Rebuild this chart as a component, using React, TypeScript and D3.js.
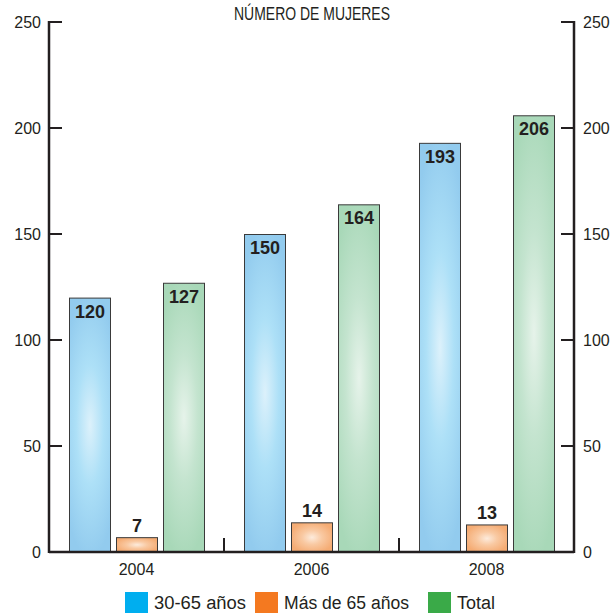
import React, { useEffect, useRef } from 'react';
import * as d3 from 'd3';

const years = ['2004', '2006', '2008'];
const seriesNames = ['30-65 años', 'Más de 65 años', 'Total'];
const adultos = [120, 150, 193];
const mayores = [7, 14, 13];
const total = [127, 164, 206];
const yTicks = [0, 50, 100, 150, 200, 250];

const seriesValues = [adultos, mayores, total];
const legendColors = ['#00aeef', '#f47920', '#3aaa48'];
const gradEdge = ['#92cbee', '#f5ac74', '#a8d8b8'];
const gradMid = ['#ade0f7', '#f9c9a2', '#c4e4cf'];
const gradCenter = ['#dcf1fb', '#fdebdc', '#e6f3ea'];

const App: React.FC = () => {
  const svgRef = useRef<SVGSVGElement>(null);

  useEffect(() => {
    if (!svgRef.current) return;
    const width = 611;
    const height = 613;
    const left = 49;
    const right = 574;
    const font = '"Liberation Sans", Arial, sans-serif';

    const svg = d3.select(svgRef.current);
    svg.selectAll('*').remove();
    svg.attr('width', width).attr('height', height);

    const defs = svg.append('defs');
    seriesNames.forEach((_, i) => {
      const g = defs.append('radialGradient')
        .attr('id', `grad${i}`)
        .attr('cx', 0.5).attr('cy', 0.5).attr('r', 0.5)
        .attr('gradientTransform', i === 1
          ? 'translate(0.5,0.5) scale(1.1,1.1) translate(-0.5,-0.5)'
          : 'translate(0.5,0.5) scale(1.5,1.05) translate(-0.5,-0.5)');
      g.append('stop').attr('offset', '0%').attr('stop-color', gradCenter[i]);
      g.append('stop').attr('offset', '45%').attr('stop-color', gradMid[i]);
      g.append('stop').attr('offset', '100%').attr('stop-color', gradEdge[i]);
    });

    const y = d3.scaleLinear().domain([0, 250]).range([552, 22]);
    const x0 = d3.scaleBand().domain(years).range([left, right]);
    const x1 = d3.scaleBand().domain(seriesNames).range([20, 156]).paddingInner(5 / 47);

    // bars
    years.forEach((yr, gi) => {
      seriesNames.forEach((s, si) => {
        const v = seriesValues[si][gi];
        const bx = (x0(yr) || 0) + (x1(s) || 0);
        const by = y(v);
        svg.append('rect')
          .attr('x', bx + 0.5)
          .attr('y', by + 0.5)
          .attr('width', x1.bandwidth() - 1)
          .attr('height', y(0) - by - 0.5)
          .attr('fill', `url(#grad${si})`)
          .attr('stroke', '#3a3a3a')
          .attr('stroke-width', 1);
        const inside = si !== 1;
        svg.append('text')
          .attr('x', bx + x1.bandwidth() / 2)
          .attr('y', inside ? by + 20 : by - 5)
          .attr('text-anchor', 'middle')
          .attr('font-family', font)
          .attr('font-weight', 'bold')
          .attr('font-size', 18)
          .attr('fill', '#231f20')
          .text(v);
      });
    });

    const axisColor = '#231f20';
    // vertical axes
    [left, right].forEach(ax => {
      svg.append('line')
        .attr('x1', ax).attr('x2', ax)
        .attr('y1', y(250) - 1).attr('y2', y(0) + 1)
        .attr('stroke', axisColor).attr('stroke-width', 2.5);
    });
    // baseline
    svg.append('line')
      .attr('x1', left).attr('x2', right)
      .attr('y1', y(0)).attr('y2', y(0))
      .attr('stroke', axisColor).attr('stroke-width', 2.5);

    yTicks.forEach(t => {
      if (t > 0) {
        svg.append('line')
          .attr('x1', left).attr('x2', left + 13)
          .attr('y1', y(t)).attr('y2', y(t))
          .attr('stroke', axisColor).attr('stroke-width', 2);
        svg.append('line')
          .attr('x1', right - 13).attr('x2', right)
          .attr('y1', y(t)).attr('y2', y(t))
          .attr('stroke', axisColor).attr('stroke-width', 2);
      }
      svg.append('text')
        .attr('x', left - 8).attr('y', y(t) + 6)
        .attr('text-anchor', 'end')
        .attr('font-family', font).attr('font-size', 16)
        .attr('fill', axisColor)
        .text(t);
      svg.append('text')
        .attr('x', right + 9).attr('y', y(t) + 6)
        .attr('text-anchor', 'start')
        .attr('font-family', font).attr('font-size', 16)
        .attr('fill', axisColor)
        .text(t);
    });

    // category separators
    years.slice(1).forEach(yr => {
      const sx = x0(yr) || 0;
      svg.append('line')
        .attr('x1', sx).attr('x2', sx)
        .attr('y1', y(0) - 14).attr('y2', y(0))
        .attr('stroke', axisColor).attr('stroke-width', 2);
    });

    // x labels
    years.forEach(yr => {
      svg.append('text')
        .attr('x', (x0(yr) || 0) + x0.bandwidth() / 2)
        .attr('y', 575)
        .attr('text-anchor', 'middle')
        .attr('font-family', font).attr('font-size', 16)
        .attr('fill', axisColor)
        .text(yr);
    });

    // title
    svg.append('text')
      .attr('x', (left + right) / 2 + 0.5)
      .attr('y', 20)
      .attr('text-anchor', 'middle')
      .attr('font-family', font).attr('font-size', 17.5)
      .attr('textLength', 156)
      .attr('lengthAdjust', 'spacingAndGlyphs')
      .attr('fill', axisColor)
      .text('NÚMERO DE MUJERES');

    // legend
    const legendX = [125, 255, 428];
    const legendW = [92, 125, 38];
    seriesNames.forEach((s, i) => {
      svg.append('rect')
        .attr('x', legendX[i]).attr('y', 592)
        .attr('width', 23).attr('height', 21)
        .attr('fill', legendColors[i]);
      svg.append('text')
        .attr('x', legendX[i] + 29).attr('y', 609)
        .attr('font-family', font).attr('font-size', 18)
        .attr('textLength', legendW[i])
        .attr('lengthAdjust', 'spacingAndGlyphs')
        .attr('fill', axisColor)
        .text(s);
    });
  }, []);

  return (
    <div style={{ position: 'absolute', left: 0, top: 0 }}>
      <svg ref={svgRef} style={{ display: 'block' }}></svg>
    </div>
  );
};

export default App;
